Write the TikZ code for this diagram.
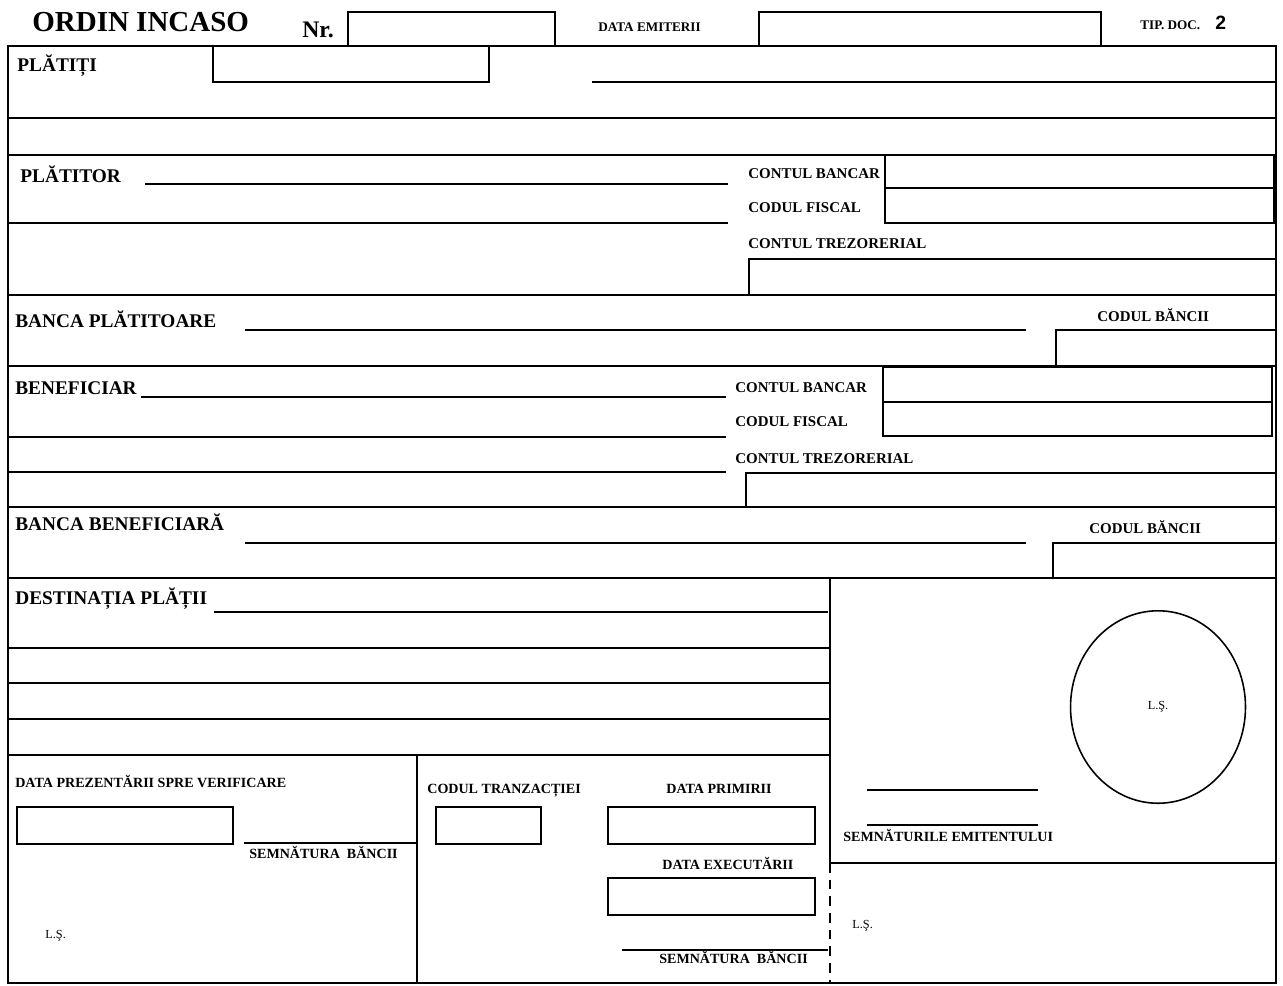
\documentclass[tikz,border=0pt]{standalone}
\usepackage{fontspec}
\setmainfont{Liberation Serif}
\newfontfamily\digitfont{Liberation Sans}
\usepackage{tikz}
\usetikzlibrary{arrows.meta, positioning, shapes.geometric}

\tikzset{
	outline/.style={line width=1.6pt},
	sepline/.style={line width=1.6pt},
	rule/.style={line width=0.9pt},
	fieldbox/.style={line width=1.3pt},
	headtext/.style={anchor=base west, inner sep=0pt, font=\fontsize{11}{13}\selectfont\bfseries},
	fieldtext/.style={anchor=base west, inner sep=0pt, font=\fontsize{8.5}{10}\selectfont\bfseries},
	smalltext/.style={anchor=base west, inner sep=0pt, font=\fontsize{8}{9.5}\selectfont\bfseries},
	tinytext/.style={anchor=base west, inner sep=0pt, font=\fontsize{7.5}{9}\selectfont\bfseries},
	sealtext/.style={inner sep=0pt, font=\fontsize{7}{8}\selectfont},
}

\begin{document}
\begin{tikzpicture}[x=0.02cm, y=-0.02cm]
		\useasboundingbox (0,0) rectangle (1283,985);
		\fill[white] (0,0) rectangle (1283,985);

		\node[
			anchor=base west,
			inner sep=0pt,
			font=\fontsize{16.5}{18}\selectfont\bfseries
		] (title) at (32,31) {ORDIN INCASO};
		\node[
			anchor=base west,
			inner sep=0pt,
			font=\fontsize{13.5}{16}\selectfont\bfseries
		] (nrlabel) at (302,37) {Nr.};
		\draw[fieldbox] (348,12) rectangle (555,46);
		\node[tinytext] (emitlabel) at (598,31) {DATA EMITERII};
		\draw[fieldbox] (759,12) rectangle (1101,46);
		\node[tinytext] (tiplabel) at (1140,29) {TIP. DOC.};
		\node[
			anchor=base west,
			inner sep=0pt,
			font=\digitfont\fontsize{11}{13}\selectfont\bfseries
		] (tipvalue) at (1215,29) {2};

		\draw[outline] (8,46) rectangle (1276,983);

		\node[headtext] (platiti) at (17,71) {PLĂTIȚI};
		\draw[fieldbox] (213,46) rectangle (489,82);
		\draw[rule] (592,82) -- (1276,82);
		\draw[rule] (8,118) -- (1276,118);
		\draw[sepline] (8,155) -- (1276,155);

		\node[headtext] (platitor) at (20,182) {PLĂTITOR};
		\draw[rule] (145,184) -- (728,184);
		\draw[rule] (8,223) -- (728,223);
		\node[fieldtext] (pcont) at (748,178) {CONTUL BANCAR};
		\node[fieldtext] (pfisc) at (748,212) {CODUL FISCAL};
		\node[fieldtext] (ptrez) at (748,248) {CONTUL TREZORERIAL};
		\draw[fieldbox] (885,155) rectangle (1274,188);
		\draw[fieldbox] (885,188) rectangle (1274,223);
		\draw[fieldbox] (749,295) -- (749,259) -- (1276,259);
		\draw[sepline] (8,295) -- (1276,295);

		\node[headtext] (bancap) at (15,327) {BANCA PLĂTITOARE};
		\draw[rule] (245,330) -- (1026,330);
		\node[fieldtext] (pbanc) at (1097,321) {CODUL BĂNCII};
		\draw[fieldbox] (1056,366) -- (1056,330) -- (1276,330);
		\draw[sepline] (8,366) -- (1276,366);

		\node[headtext] (benef) at (15,394) {BENEFICIAR};
		\draw[rule] (141,397) -- (726,397);
		\draw[rule] (8,437) -- (726,437);
		\draw[rule] (8,472) -- (726,472);
		\node[fieldtext] (bcont) at (735,392) {CONTUL BANCAR};
		\node[fieldtext] (bfisc) at (735,426) {CODUL FISCAL};
		\node[fieldtext] (btrez) at (735,463) {CONTUL TREZORERIAL};
		\draw[fieldbox] (883,367) rectangle (1272,402);
		\draw[fieldbox] (883,402) rectangle (1272,436);
		\draw[fieldbox] (746,507) -- (746,473) -- (1276,473);
		\draw[sepline] (8,507) -- (1276,507);

		\node[headtext] (bancab) at (15,530) {BANCA BENEFICIARĂ};
		\draw[rule] (245,543) -- (1026,543);
		\node[fieldtext] (bbanc) at (1089,533) {CODUL BĂNCII};
		\draw[fieldbox] (1053,578) -- (1053,543) -- (1276,543);
		\draw[sepline] (8,578) -- (1276,578);

		\node[headtext] (destin) at (15,604) {DESTINAȚIA PLĂȚII};
		\draw[rule] (214,612) -- (828,612);
		\foreach \yy in {648,683,719}
			\draw[rule] (8,\yy) -- (830,\yy);
		\draw[sepline] (8,755) -- (830,755);
		\draw[line width=1.2pt] (830,578) -- (830,863);
		\draw[line width=1.2pt, dash pattern=on 5.5pt off 4pt] (830,863) -- (830,983);
		\draw[rule] (417,755) -- (417,983);

		\node[smalltext] (prezent) at (15,787) {DATA PREZENTĂRII SPRE VERIFICARE};
		\draw[fieldbox] (17,807) rectangle (233,844);
		\draw[rule] (244,843) -- (417,843);
		\node[smalltext] (semnbanc1) at (249,858) {SEMNĂTURA\ \ BĂNCII};
		\node[sealtext, anchor=base west] (ls1) at (45,938) {L.Ş.};

		\node[smalltext] (tranz) at (427,793) {CODUL TRANZACȚIEI};
		\draw[fieldbox] (436,807) rectangle (541,844);
		\node[smalltext] (primire) at (666,793) {DATA PRIMIRII};
		\draw[fieldbox] (608,807) rectangle (815,844);
		\node[smalltext] (executie) at (662,869) {DATA EXECUTĂRII};
		\draw[fieldbox] (608,878) rectangle (815,915);
		\draw[rule] (622,950) -- (828,950);
		\node[smalltext] (semnbanc2) at (659,963) {SEMNĂTURA\ \ BĂNCII};

		\node[
			draw,
			ellipse,
			line width=0.9pt,
			minimum width=3.5cm,
			minimum height=3.85cm,
			sealtext
		] (stamp) at (1158,707) {L.Ş.};
		\draw[rule] (867,790) -- (1038,790);
		\draw[rule] (867,825) -- (1038,825);
		\node[smalltext] (emitent) at (843,841) {SEMNĂTURILE EMITENTULUI};
		\draw[sepline] (830,863) -- (1276,863);
		\node[sealtext, anchor=base west] (ls2) at (852,928) {L.Ş.};
	\end{tikzpicture}
\end{document}
